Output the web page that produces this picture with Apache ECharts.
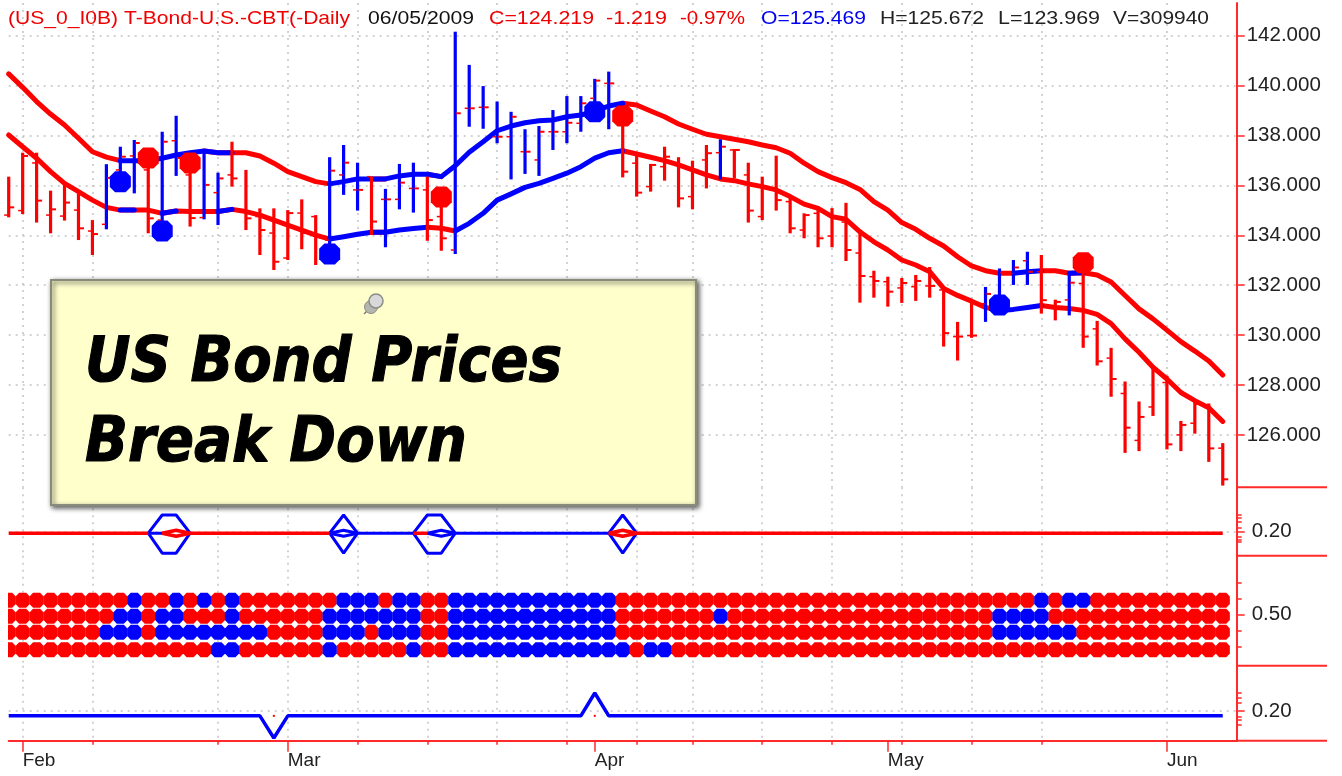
<!DOCTYPE html>
<html><head><meta charset="utf-8"><style>html,body{margin:0;padding:0;background:#fff}#c{width:1342px;height:776px}</style>
<script src="https://cdn.jsdelivr.net/npm/echarts@6/dist/echarts.min.js"></script></head>
<body><div id="c"></div><script>
const dates=['Jan 30','Feb 2','Feb 3','Feb 4','Feb 5','Feb 6','Feb 9','Feb 10','Feb 11','Feb 12','Feb 13','Feb 17','Feb 18','Feb 19','Feb 20','Feb 23','Feb 24','Feb 25','Feb 26','Feb 27','Mar 2','Mar 3','Mar 4','Mar 5','Mar 6','Mar 9','Mar 10','Mar 11','Mar 12','Mar 13','Mar 16','Mar 17','Mar 18','Mar 19','Mar 20','Mar 23','Mar 24','Mar 25','Mar 26','Mar 27','Mar 30','Mar 31','Apr 1','Apr 2','Apr 3','Apr 6','Apr 7','Apr 8','Apr 9','Apr 13','Apr 14','Apr 15','Apr 16','Apr 17','Apr 20','Apr 21','Apr 22','Apr 23','Apr 24','Apr 27','Apr 28','Apr 29','Apr 30','May 1','May 4','May 5','May 6','May 7','May 8','May 11','May 12','May 13','May 14','May 15','May 18','May 19','May 20','May 21','May 22','May 26','May 27','May 28','May 29','Jun 1','Jun 2','Jun 3','Jun 4','Jun 5',''];
const weekTicks=[1,6,15,20,25,30,35,40,45,49,54,59,64,69,74,83];
const monthTicks={1:'Feb',20:'Mar',42:'Apr',63:'May',83:'Jun'};
const high=[136.35,137.31,137.31,135.79,136.02,135.68,134.61,136.85,137.55,137.82,137.42,138.15,138.79,136.90,137.30,136.51,137.75,136.62,135.08,135.08,135.01,135.44,134.81,137.13,137.62,136.91,136.35,135.86,136.86,136.91,136.35,135.82,142.16,140.83,139.98,139.36,138.95,138.25,138.38,139.02,139.58,139.58,140.27,140.56,139.15,137.22,136.86,137.55,137.13,136.99,137.62,137.85,137.46,136.91,136.35,137.19,135.55,134.88,135.15,135.09,135.30,134.09,132.58,132.34,132.29,132.41,132.73,131.89,130.53,131.33,131.93,132.67,133.01,133.34,133.21,131.42,132.54,132.54,130.57,129.49,128.14,127.34,128.78,128.37,126.56,127.37,127.26,125.672];
const low=[134.72,134.85,134.51,134.08,134.59,133.81,133.21,134.24,135.82,135.68,134.08,134.21,136.38,134.35,134.64,134.41,135.95,134.21,133.21,132.61,133.01,133.44,132.81,133.17,135.62,134.99,134.01,133.52,135.04,134.91,133.78,133.38,133.25,138.35,138.27,137.69,136.24,136.46,136.38,137.42,137.69,138.15,138.89,138.25,136.32,135.55,135.75,136.19,135.12,135.04,135.88,136.24,136.28,134.51,134.61,134.99,134.08,133.88,133.52,133.52,132.97,131.30,131.50,131.14,131.29,131.37,131.50,129.54,128.98,129.89,130.53,130.86,132.01,132.01,130.86,130.59,130.79,129.49,128.78,127.53,125.28,125.35,126.76,125.42,125.35,126.05,124.92,123.969];
const close=[135.12,137.18,135.39,135.04,135.31,134.28,134.05,136.30,137.15,137.70,134.68,137.75,137.10,134.69,136.02,136.28,136.28,134.68,134.21,132.94,134.89,134.09,133.94,136.59,136.91,135.82,134.55,135.44,136.11,135.88,134.61,133.88,138.89,139.09,139.13,137.95,138.75,137.35,138.15,138.15,138.51,139.29,140.20,140.09,136.55,135.71,136.82,137.15,135.48,136.62,137.29,137.55,137.42,134.99,135.95,135.41,134.28,134.81,133.88,134.69,133.41,132.37,132.17,131.74,132.09,132.17,131.97,130.08,129.94,129.98,131.65,132.50,132.71,132.54,131.40,131.33,132.10,129.94,128.95,128.24,126.29,126.72,128.57,125.62,126.40,127.24,125.46,124.219];
const open=[134.81,134.99,136.90,134.81,134.77,135.01,134.17,134.44,136.62,137.18,136.62,134.61,137.79,136.42,134.71,135.71,136.42,135.01,134.75,134.09,133.09,134.89,134.75,133.81,136.42,135.82,136.35,135.44,135.44,135.88,135.82,134.75,133.41,139.09,139.13,137.95,137.95,137.35,137.02,138.15,138.15,138.49,139.49,140.09,139.00,136.89,135.95,136.75,136.90,135.55,137.02,137.31,137.42,136.42,134.75,135.82,135.35,134.21,134.88,133.97,134.53,133.29,132.34,132.14,131.89,131.94,131.97,131.81,129.94,129.98,131.26,131.01,132.47,132.98,132.54,131.17,131.41,132.07,130.25,129.08,127.66,125.78,127.12,128.10,126.00,126.47,127.10,125.469];
const blueBars=[7,8,9,11,12,14,15,23,24,25,27,28,29,32,33,34,35,36,37,38,39,40,41,42,43,51,70,71,72,73,76];
const upperBand=[140.47,139.93,139.36,138.86,138.42,137.89,137.35,137.13,136.99,136.99,136.99,137.09,137.22,137.31,137.38,137.31,137.31,137.31,137.18,136.89,136.55,136.35,136.15,136.06,136.15,136.26,136.26,136.26,136.38,136.45,136.45,136.35,136.79,137.33,137.75,138.19,138.38,138.51,138.59,138.62,138.75,138.82,138.99,139.18,139.29,139.22,138.98,138.75,138.46,138.25,138.05,137.95,137.85,137.75,137.62,137.51,137.29,136.89,136.55,136.31,136.11,135.84,135.35,135.01,134.51,134.24,133.88,133.57,133.14,132.77,132.58,132.48,132.48,132.54,132.58,132.58,132.48,132.50,132.41,132.13,131.59,131.05,130.65,130.20,129.74,129.36,128.96,128.40];
const lowerBand=[138.02,137.55,137.09,136.55,136.08,135.75,135.41,135.12,135.01,135.01,135.01,134.88,134.97,134.95,134.95,134.95,135.04,134.95,134.81,134.61,134.41,134.21,134.01,133.85,133.94,134.04,134.12,134.12,134.21,134.27,134.32,134.28,134.17,134.48,134.88,135.41,135.66,135.92,136.08,136.28,136.49,136.75,137.09,137.31,137.39,137.26,137.13,136.99,136.82,136.62,136.42,136.26,136.19,136.06,135.95,135.82,135.55,135.25,135.08,134.75,134.64,134.14,133.74,133.41,133.01,132.81,132.54,131.87,131.59,131.36,131.11,130.99,131.03,131.11,131.19,131.11,131.07,130.99,130.83,130.46,129.85,129.31,128.71,128.24,127.70,127.37,127.09,126.54];
const upperBlueRuns=[[8,13],[15,15],[23,25],[27,29],[31,43],[72,73],[76,76]];
const lowerBlueRuns=[[8,8],[11,11],[15,15],[23,25],[27,29],[32,43],[71,73]];
const redDots=[[10,137.10],[13,136.90],[31,135.53],[44,138.78],[77,132.90]];
const blueDots=[[8,136.15],[11,134.17],[23,133.25],[42,138.95],[71,131.21]];
const priceTicks=[126,128,130,132,134,136,138,140,142];
// signal strip
const sigRed=[[[0,.197],[10,.197]],[[13,.197],[23,.197]],[[29,.197],[30,.197]],[[45,.197],[87,.197]],
 [[11,.197],[12,.203],[13,.197]],[[11,.197],[12,.191],[13,.197]],[[43,.197],[44,.203],[45,.197]],[[43,.197],[44,.191],[45,.197]]];
const sigBlue=[[[10,.197],[11,.197]],[[25,.197],[29,.197]],[[32,.197],[43,.197]],
 [[23,.197],[24,.203],[25,.197]],[[23,.197],[24,.191],[25,.197]],[[30,.197],[31,.203],[32,.197]],[[30,.197],[31,.191],[32,.197]],
 [[10,.197],[11,.2334],[12,.2334],[13,.197]],[[10,.197],[11,.157],[12,.157],[13,.197]],
 [[23,.197],[24,.2334],[25,.197]],[[23,.197],[24,.157],[25,.197]],
 [[29,.197],[30,.2334],[31,.2334],[32,.197]],[[29,.197],[30,.157],[31,.157],[32,.197]],
 [[43,.197],[44,.2334],[45,.197]],[[43,.197],[44,.157],[45,.197]]];
const sigTicks=[.18,.183,.19,.207,.22,.227,.233];
// dot matrix: r = red, b = blue
const matrixLevels=[.59,.49,.39,.28];
const matrixRows=[
'rrrrrrrrrbrrbrbrbrrrrrrrbbbrbbrrbbbbbbbbbbbbrrrrrrrrrrrrrrrrrrrrrrrrrrrrrrbrbbrrrrrrrrrr',
'rrrrrrrrbbrbbrrrbrrrrrrbbbbbbbrrbbbbbbbbbbbbrrrrrrrbrrrrrrrrrrrrrrrrrrrbbbbrrrrrrrrrrrrr',
'rrrrrrrbbbrbbbbbbbbrrrrbbbrbbbrrbbbbbbbbbbbbrrrrrrrrrrrrrrrrrrrrrrrrrrrbbbbbbrrrrrrrrrrr',
'rrrrrrrrrrrrrrrbbrrrrrrbrrrrrbrrbbbbbbbbbbbbbrbbrrrrrrrrrrrrrrrrrrrrrrrrrrrrrrrrrrrrrrrr'];
const matrixTicks=[.3,.4,.6,.7];
// pulse strip
const pulseLine=[[0,.188],[18,.188],[19,.1325],[20,.188],[41,.188],[42,.245],[43,.188],[87,.188]];
const pulseMarks=[[19,.188],[42,.188]];
const pulseTicks=[.165,.1775,.185,.22,.2325,.245];
const headerItems=[
['(US_0_I0B) T-Bond-U.S.-CBT(-Daily',8,342,'#f00000'],['06/05/2009',368,106,'#111'],['C=124.219',489,105,'#f00000'],['-1.219',606,61,'#f00000'],['-0.97%',680,65,'#f00000'],['O=125.469',761,105,'#0000f0'],['H=125.672',880,104,'#222'],['L=123.969',998,102,'#222'],['V=309940',1113,96,'#222']];
const noteLines=[['US Bond Prices',85,365,477],['Break Down',85,445,382]];

const RED='#ff0000',BLUE='#0000ff',AX='#ff2a2a',GRIDC='#c4c4c4';
const X0=8.7,PW=1228;
const panels=[[3,484.3],[487.3,68.4],[555.7,110],[665.7,75]];
const grid=panels.map(p=>({left:X0,width:PW,top:p[0],height:p[1]}));
const isWeek=i=>weekTicks.includes(i), isMonth=i=>monthTicks[i]!==undefined;
const dots={show:true,interval:isWeek,lineStyle:{color:GRIDC,width:1.5,type:[2,5]}};
const xAxis=[0,1,2].map(g=>({type:'category',gridIndex:g,position:'bottom',data:dates,boundaryGap:false,axisLine:{show:false},axisTick:{show:false},axisLabel:{show:false},splitLine:dots}));
xAxis.push({type:'category',gridIndex:3,position:'bottom',data:dates,boundaryGap:false,axisLine:{show:true,onZero:false,lineStyle:{color:AX,width:2}},axisTick:{show:true,interval:isWeek,length:4,lineStyle:{color:AX,width:1.5}},axisLabel:{show:false},splitLine:dots});
xAxis.push({type:'category',gridIndex:3,position:'bottom',data:dates,boundaryGap:false,axisLine:{show:false,onZero:false},axisTick:{show:true,interval:isMonth,length:11,lineStyle:{color:AX,width:1.5}},
 axisLabel:{show:true,interval:isMonth,formatter:(v,i)=>monthTicks[i]||'',align:'left',margin:11,fontFamily:'Liberation Sans',fontSize:19,color:'#222'},splitLine:{show:false}});
const yBase=(g,min,max,ticks,len,lab,dec,split)=>({type:'value',gridIndex:g,position:'right',min,max,
 axisLine:{show:true,onZero:false,lineStyle:{color:AX,width:2}},
 axisTick:{show:true,customValues:ticks,length:len,lineStyle:{color:AX,width:1.5}},
 axisLabel:lab?{show:true,customValues:ticks,margin:lab,fontFamily:'Liberation Sans',fontSize:20.5,color:'#222',formatter:v=>v.toFixed(dec)}:{show:false},
 splitLine:split?{show:true,lineStyle:{color:GRIDC,width:1.5,type:[2,5]}}:{show:false}});
const yAxis=[
 yBase(0,123.9,143.31,priceTicks,8,10,3,true),
 yBase(1,.152,.2888,[.2],8,15,2,true), yBase(1,.152,.2888,sigTicks,5,0),
 yBase(2,.181,.869,[.5],8,15,2,false), yBase(2,.181,.869,matrixTicks,5,0),
 yBase(3,.1258,.3133,[.2],8,15,2,true), yBase(3,.1258,.3133,pulseTicks,5,0)];

function inRuns(runs,s){return runs.some(r=>s>=r[0]&&s<=r[1]);}
function bandSeries(vals,runs){
 return [[RED,false],[BLUE,true]].map(([col,blue])=>({type:'line',xAxisIndex:0,yAxisIndex:0,z:2,symbol:'none',silent:true,animation:false,
  lineStyle:{color:col,width:5,cap:'round',join:'round'},
  data:vals.map((v,i)=>{const a=i<vals.length-1&&inRuns(runs,i)===blue,b=i>0&&inRuns(runs,i-1)===blue;return (a||b)?v:'-';})}));
}
const octagon='path://M2.5,0 L7.5,0 L10,2.5 L10,7.5 L7.5,10 L2.5,10 L0,7.5 L0,2.5 Z';
const series=[...bandSeries(upperBand,upperBlueRuns),...bandSeries(lowerBand,lowerBlueRuns)];
series.push({type:'custom',xAxisIndex:0,yAxisIndex:0,z:3,silent:true,animation:false,
 encode:{x:0,y:[1,2,3,4]},
 data:high.map((h,i)=>[i,h,low[i],close[i],open[i]]),
 renderItem(p,api){
  const i=api.value(0),hi=api.coord([i,api.value(1)]),lo=api.coord([i,api.value(2)]),c=api.coord([i,api.value(3)]),o=api.coord([i,api.value(4)]);
  const col=blueBars.includes(i)?BLUE:RED;
  return {type:'group',children:[
   {type:'line',shape:{x1:hi[0],y1:hi[1],x2:lo[0],y2:lo[1]},style:{stroke:col,lineWidth:3.2}},
   {type:'line',shape:{x1:c[0]+1,y1:c[1],x2:c[0]+5.5,y2:c[1]},style:{stroke:RED,lineWidth:2}},
   {type:'line',shape:{x1:o[0]-4.5,y1:o[1],x2:o[0]-1,y2:o[1]},style:{stroke:RED,lineWidth:1.5}}]};
 }});
series.push({type:'scatter',xAxisIndex:0,yAxisIndex:0,z:4,symbol:octagon,symbolSize:21,silent:true,animation:false,itemStyle:{color:RED,opacity:1},data:redDots});
series.push({type:'scatter',xAxisIndex:0,yAxisIndex:0,z:4,symbol:octagon,symbolSize:21,silent:true,animation:false,itemStyle:{color:BLUE,opacity:1},data:blueDots});
const sigLine=(d,col,w)=>({type:'line',xAxisIndex:1,yAxisIndex:1,z:2,symbol:'none',silent:true,animation:false,lineStyle:{color:col,width:w},data:d});
sigBlue.forEach(d=>series.push(sigLine(d,BLUE,3)));
sigRed.forEach(d=>series.push(sigLine(d,RED,3.5)));
['r','b'].forEach(k=>{const data=[];matrixRows.forEach((row,r)=>{row.split('').forEach((ch,i)=>{if(ch===k)data.push([i,matrixLevels[r]]);});});
 series.push({type:'scatter',xAxisIndex:2,yAxisIndex:3,z:3,symbol:octagon,symbolSize:[14.2,15],silent:true,animation:false,itemStyle:{color:k==='r'?RED:BLUE,opacity:1},data});});
series.push({type:'line',xAxisIndex:3,yAxisIndex:5,z:2,symbol:'none',silent:true,animation:false,lineStyle:{color:BLUE,width:3.5},data:pulseLine});
series.push({type:'scatter',xAxisIndex:3,yAxisIndex:5,z:3,symbol:'rect',symbolSize:2,silent:true,animation:false,itemStyle:{color:RED,opacity:1},data:pulseMarks});

const cv=document.createElement('canvas').getContext('2d');
const fit=(t,f,w)=>{cv.font=f;return w/cv.measureText(t).width;};
const graphic=[];
headerItems.forEach(([t,x,w,col])=>{const f='19px "Liberation Sans"';
 graphic.push({type:'text',x,y:19,scaleX:fit(t,f,w),z:20,silent:true,style:{text:t,font:f,fill:col,textVerticalAlign:'middle'}});});
graphic.push({type:'rect',z:15,silent:true,shape:{x:0,y:590,width:8,height:70},style:{fill:'#fff'}});
[487.3,555.7,665.7,740.7].forEach(y=>graphic.push({type:'line',z:5,silent:true,shape:{x1:1237,y1:y,x2:1327,y2:y},style:{stroke:AX,lineWidth:2}}));
graphic.push({type:'rect',z:30,silent:true,shape:{x:51,y:280,width:645,height:225},style:{fill:'#ffffcc',stroke:'#8a8a7a',lineWidth:2,shadowBlur:5,shadowOffsetX:2,shadowOffsetY:2,shadowColor:'rgba(40,40,40,.8)'}});
noteLines.forEach(([t,x,y,w])=>{const f='italic bold 63px "DejaVu Sans"';
 graphic.push({type:'text',x,y,scaleX:fit(t,f,w),z:31,silent:true,style:{text:t,font:f,fill:'#000',stroke:'#000',lineWidth:1.2,textVerticalAlign:'middle'}});});
graphic.push({type:'line',z:31,silent:true,shape:{x1:364,y1:314,x2:372,y2:306},style:{stroke:'#777',lineWidth:1.5}});
graphic.push({type:'circle',z:31,silent:true,shape:{cx:371,cy:307,r:6.5},style:{fill:'#b5b5b0',stroke:'#8c8c86',lineWidth:1}});
graphic.push({type:'circle',z:32,silent:true,shape:{cx:376,cy:301,r:7},style:{fill:'#d8d8d8',stroke:'#8c8c86',lineWidth:1.5}});

const chart=echarts.init(document.getElementById('c'),null,{renderer:'canvas'});
chart.setOption({animation:false,backgroundColor:'#fff',grid,xAxis,yAxis,series,graphic,tooltip:{show:false}});
</script></body></html>
